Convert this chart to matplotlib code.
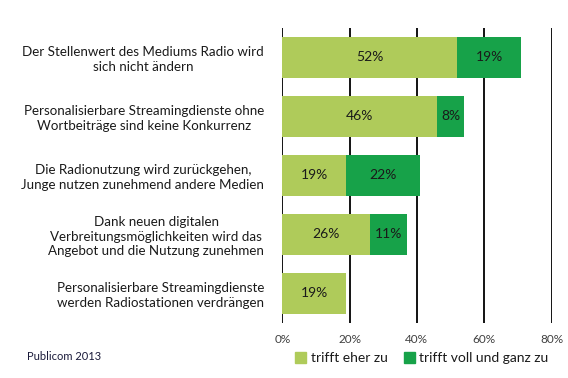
import matplotlib
matplotlib.use("Agg")
import matplotlib.pyplot as plt
from matplotlib.patches import Patch

categories = [
    "Der Stellenwert des Mediums Radio wird\nsich nicht ändern",
    "Personalisierbare Streamingdienste ohne\nWortbeiträge sind keine Konkurrenz",
    "Die Radionutzung wird zurückgehen,\nJunge nutzen zunehmend andere Medien",
    "Dank neuen digitalen\nVerbreitungsmöglichkeiten wird das\nAngebot und die Nutzung zunehmen",
    "Personalisierbare Streamingdienste\nwerden Radiostationen verdrängen",
]
eher = [52, 46, 19, 26, 19]
voll = [19, 8, 22, 11, 0]
series_names = ["trifft eher zu", "trifft voll und ganz zu"]
xticks = [0, 20, 40, 60, 80]

c_light = "#AFCB5A"
c_dark = "#17A249"

plt.rcParams['font.family'] = ['Lato', 'DejaVu Sans']
fig = plt.figure(figsize=(5.68, 3.78), dpi=100)
ax = fig.add_axes([0.497, 0.1455, 0.474, 0.7805])

y = list(range(len(categories)))
h = 0.68
ax.barh(y, eher, height=h, color=c_light, zorder=3)
ax.barh(y, voll, left=eher, height=h, color=c_dark, zorder=3)

for i in y:
    ax.text(eher[i] / 2, i, f"{eher[i]}%", ha='center', va='center', fontsize=10, color='#1a1a1a', zorder=4)
    if voll[i] > 0:
        ax.text(eher[i] + voll[i] / 2, i, f"{voll[i]}%", ha='center', va='center', fontsize=10, color='#1a1a1a', zorder=4)

ax.set_xlim(0, 80)
ax.set_ylim(len(categories) - 0.5, -0.5)
ax.set_xticks(xticks)
ax.set_xticklabels([f"{v}%" for v in xticks], fontsize=8.5, color='#404040')
ax.set_yticks(y)
ax.set_yticklabels(categories, fontsize=9.6, color='#1a1a1a', multialignment='center', linespacing=1.25)
ax.tick_params(axis='y', length=0, pad=13)
ax.tick_params(axis='x', length=0, pad=8)
for s in ax.spines.values():
    s.set_visible(False)
ax.grid(axis='x', color='black', linewidth=1.3, zorder=0)
ax.set_axisbelow(True)

handles = [Patch(color=c_light), Patch(color=c_dark)]
fig.legend(handles, series_names, loc='center', bbox_to_anchor=(0.743, 0.052), ncol=2,
           frameon=False, fontsize=10, handlelength=0.8, handleheight=0.8,
           handletextpad=0.3, columnspacing=1.2, labelcolor='#1a1a1a')

fig.text(27 / 568, 1 - 357 / 378, "Publicom 2013", fontsize=8, color='#1a1a3a', va='center', ha='left')

fig.savefig("out.png", dpi=100)
